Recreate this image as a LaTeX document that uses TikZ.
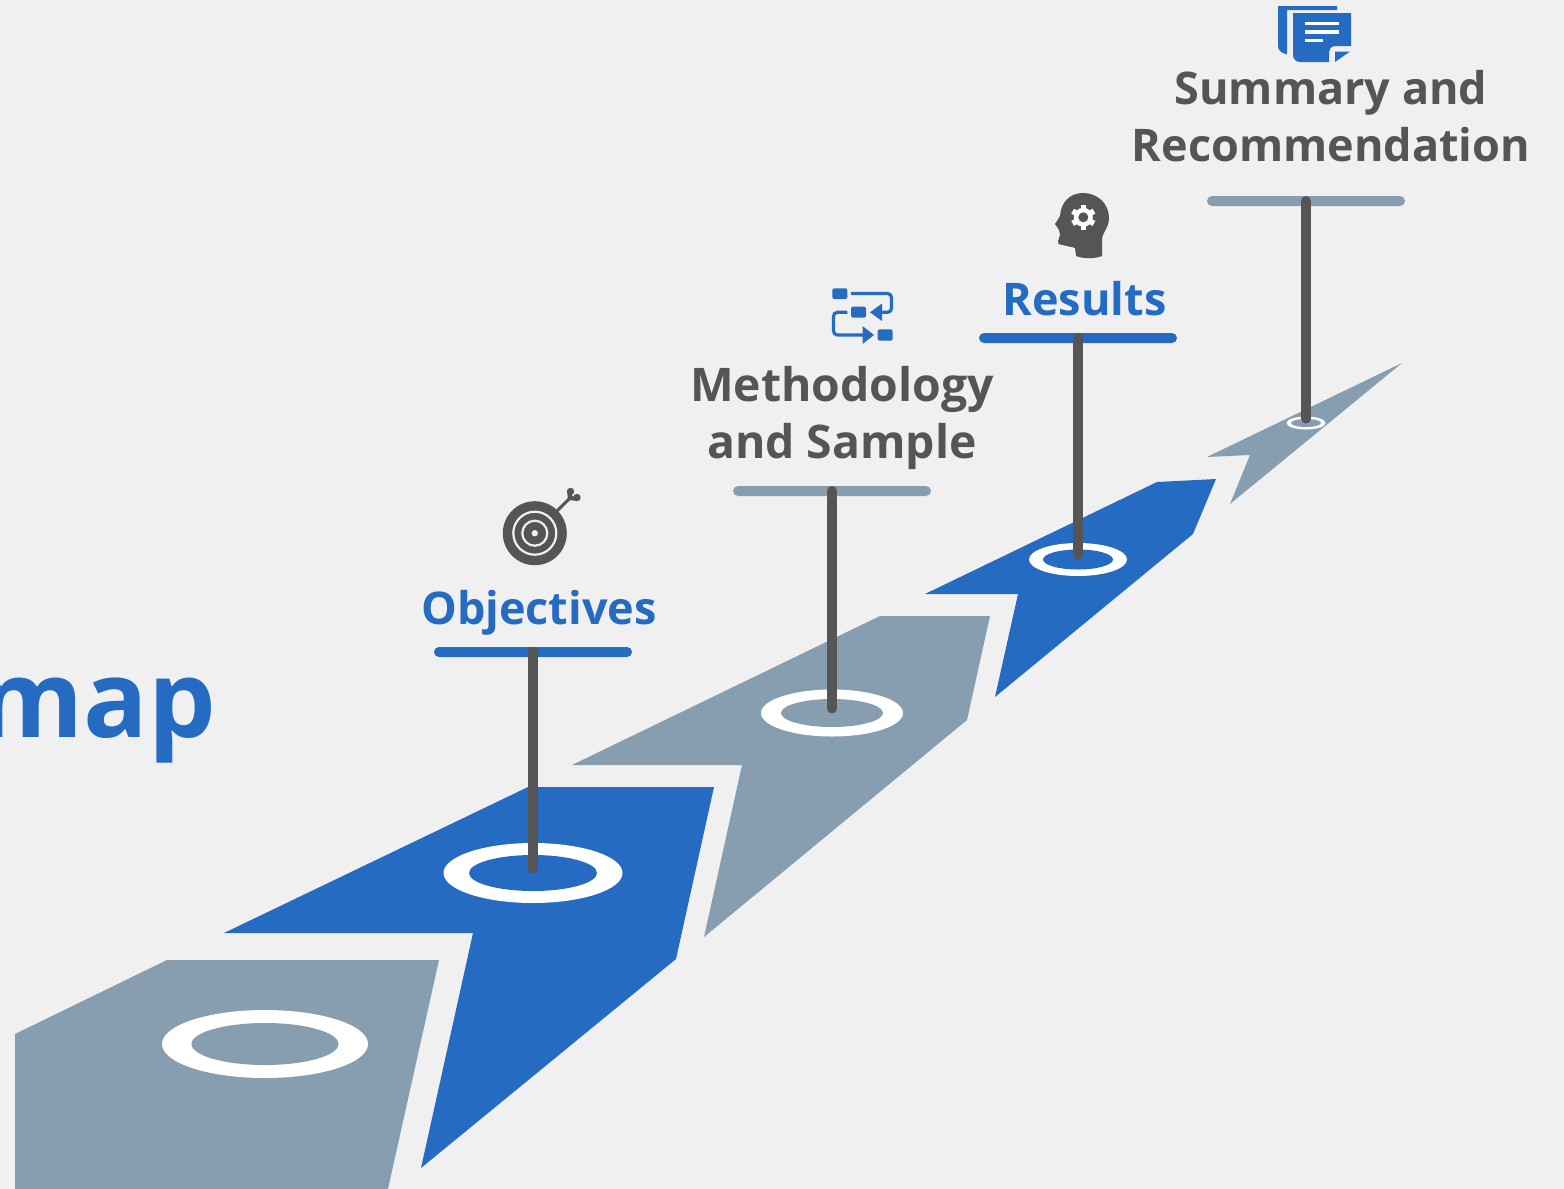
\documentclass[tikz,border=0pt]{standalone}
\usepackage{fontspec}
\setmainfont{Open Sans}
\usetikzlibrary{shapes.geometric}
\definecolor{pageback}{HTML}{F0F0F0}
\definecolor{roadblue}{HTML}{246BC1}
\definecolor{roadgrey}{HTML}{879EB1}
\definecolor{darkgrey}{HTML}{555555}
\tikzset{
	outerring/.style={ellipse,fill=white,inner sep=0pt},
	innerring/.style={ellipse,inner sep=0pt},
	bar/.style={rectangle,rounded corners=5pt,minimum width=198pt,minimum height=10pt,inner sep=0pt},
	pole/.style={draw=darkgrey,line width=10pt,line cap=round,shorten >=4.5pt},
	label/.style={font=\fontsize{45}{57}\selectfont\bfseries,align=center,inner sep=0pt},
	flowline/.style={draw=roadblue,line width=3.2pt,rounded corners=4pt}
}
\begin{document}
\begin{tikzpicture}[x=1pt,y=-1pt]
	\fill[pageback,use as bounding box] (0,0) rectangle (1564,1189);
	% road pieces
	\fill[roadgrey] (15,1034) -- (167,960) -- (439,960) -- (388,1189) -- (15,1189) -- cycle;
	\fill[roadblue] (224,933) -- (528,787) -- (714,787) -- (676,959) -- (421,1168) -- (473,933) -- cycle;
	\fill[roadgrey] (572,765) -- (880,616) -- (990,616) -- (967,720) -- (704,937) -- (742,765) -- cycle;
	\fill[roadblue] (925,594) -- (1157,482) -- (1216,479) -- (1193,534) -- (995,697) -- (1018,594) -- cycle;
	\fill[roadgrey] (1207,457) -- (1402,363) -- (1230,504) -- (1250,455) -- cycle;
	% rings
	\node[outerring,minimum width=206pt,minimum height=68pt] (ringa) at (265,1044) {};
	\node[innerring,fill=roadgrey,minimum width=147pt,minimum height=42pt] (holea) at (265,1044) {};
	\node[outerring,minimum width=179pt,minimum height=60pt] (ringb) at (533,873) {};
	\node[innerring,fill=roadblue,minimum width=128pt,minimum height=36pt] (holeb) at (533,873) {};
	\node[outerring,minimum width=142pt,minimum height=47pt] (ringc) at (832,713) {};
	\node[innerring,fill=roadgrey,minimum width=102pt,minimum height=28pt] (holec) at (832,713) {};
	\node[outerring,minimum width=98pt,minimum height=33pt] (ringd) at (1078,559.5) {};
	\node[innerring,fill=roadblue,minimum width=70pt,minimum height=20pt] (holed) at (1078,559.5) {};
	\node[outerring,minimum width=39pt,minimum height=13pt] (ringe) at (1306,423) {};
	\node[innerring,fill=roadgrey,minimum width=30pt,minimum height=8pt] (holee) at (1306,423) {};
	% bars and poles
	\node[bar,fill=roadblue] (barb) at (533,652) {};
	\node[bar,fill=roadgrey] (barc) at (832,491) {};
	\node[bar,fill=roadblue] (bard) at (1078,338) {};
	\node[bar,fill=roadgrey] (bare) at (1306,201) {};
	\draw[pole] (barb.center) -- (holeb.center);
	\draw[pole] (barc.center) -- (holec.center);
	\draw[pole] (bard.center) -- (holed.center);
	\draw[pole] (bare.center) -- (holee.center);
	% labels
	\node[anchor=base east,inner sep=0pt,text=roadblue,font=\fontsize{107}{110}\selectfont\bfseries] (title) at (216,737) {map};
	\node[label,anchor=base,text=roadblue] (objectives) at (539,624) {Objectives};
	\node[label,font=\fontsize{46.3}{57}\selectfont\bfseries,text=darkgrey] (method) at (842,418) {Methodology\\and Sample};
	\node[label,anchor=base,text=roadblue] (results) at (1084.5,315) {Results};
	\node[label,text=darkgrey] (summary) at (1331,116) {Summary and\\Recommendation};
	% target icon
	\fill[darkgrey] (534.8,533.2) circle (32);
	\draw[pageback,line width=2.2pt] (534.8,533.2) circle (21.5);
	\draw[pageback,line width=2.2pt] (534.8,533.2) circle (12.5);
	\fill[pageback] (534.8,533.2) circle (3.2);
	\draw[darkgrey,line width=3pt] (557,511) -- (571,497);
	\fill[darkgrey] (570.5,491.5) circle (3.7);
	\fill[darkgrey] (577,497.5) circle (3.7);
	\fill[darkgrey] (567,490.5) -- (578,501) -- (568,500) -- cycle;
	% flow icon
	\fill[roadblue,rounded corners=1.5pt] (832.3,288.3) rectangle (847.3,299);
	\fill[roadblue,rounded corners=1.5pt] (851,306.7) rectangle (866,317.7);
	\fill[roadblue,rounded corners=1.5pt] (877.7,329.3) rectangle (892.7,340.7);
	\draw[flowline] (851,293.5) -- (891.5,293.5) -- (891.5,312.3) -- (880,312.3);
	\fill[roadblue] (870,312.3) -- (882,303.5) -- (882,321) -- cycle;
	\draw[flowline] (847.3,312.3) -- (833.5,312.3) -- (833.5,335) -- (864,335);
	\fill[roadblue] (874,335) -- (862.5,326) -- (862.5,344) -- cycle;
	% head icon
	\fill[darkgrey] (1083,193) .. controls (1098,193) and (1109,204) .. (1109,218)
		.. controls (1109,228) and (1102,232) .. (1102,240) -- (1102,256)
		.. controls (1094,259) and (1084,259) .. (1076,256) -- (1075,248)
		.. controls (1071,246.5) and (1067,246.5) .. (1063,245)
		.. controls (1059,245) and (1057,243) .. (1058,241) -- (1060,235) -- (1059,230) -- (1055,224)
		-- (1060,216) .. controls (1061,202) and (1070,193) .. (1083,193) -- cycle;
	\foreach \a in {0,60,...,300}
		\fill[white,rotate around={\a:(1083.3,217.3)}] (1080.5,205) rectangle (1086.1,212);
	\fill[white] (1083.3,217.3) circle (9.5);
	\fill[darkgrey] (1083.3,217.3) circle (5);
	% document icon
	\fill[roadblue] (1278,6) -- (1337,6) -- (1337,10) -- (1287,10) -- (1287,54.5) .. controls (1281,53) and (1278,50) .. (1278,46) -- cycle;
	\fill[roadblue] (1293,13) -- (1351,13) -- (1351,46) -- (1336,46) .. controls (1331,46) and (1329,49) .. (1329,52) -- (1329,62) -- (1300,62) .. controls (1296,62) and (1293,59) .. (1293,55) -- cycle;
	\fill[roadblue] (1335,51.5) -- (1350,51.5) -- (1335,62) -- cycle;
	\fill[white] (1305,21.5) rectangle (1339,25);
	\fill[white] (1305,30) rectangle (1339,33.5);
	\fill[white] (1305,38.5) rectangle (1323,42);
\end{tikzpicture}
\end{document}
